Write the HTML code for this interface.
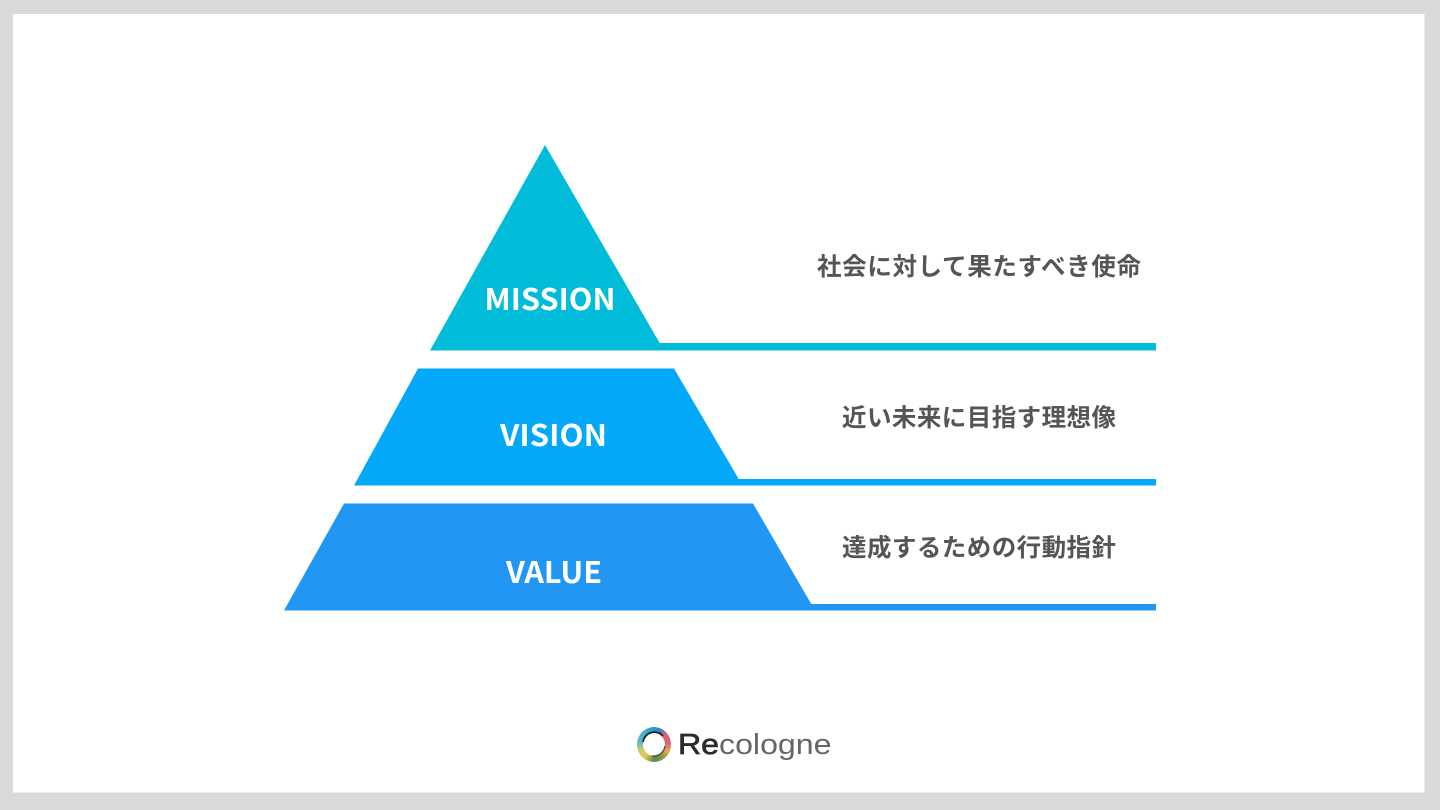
<!DOCTYPE html>
<html lang="ja">
<head>
<meta charset="utf-8">
<title>Mission Vision Value</title>
<style>
html,body{margin:0;padding:0;width:1440px;height:810px;overflow:hidden;background:#d9d9d9}
body{position:relative}
svg{display:block;position:absolute;left:0;top:0}
.en{font-family:"Noto Sans CJK JP","Liberation Sans",sans-serif;font-weight:700;fill:#fff;font-size:30px}
.jp{font-family:"Liberation Sans","Noto Sans CJK JP",sans-serif;font-weight:700;fill:#555;font-size:24.5px}
.logo{font-family:"Liberation Sans",sans-serif;font-size:28.5px}
#ring{position:absolute;left:637px;top:727px;width:34px;height:35px;border-radius:50%;
background:conic-gradient(#2f8fd0 0deg,#3f7fc0 25deg,#d9657f 50deg,#e0607a 85deg,#e8a850 115deg,#7f9a40 150deg,#5a8a50 180deg,#e8c84a 215deg,#d8c860 245deg,#60b8c8 280deg,#35b0d8 330deg,#2f8fd0 360deg)}
#ringin{position:absolute;left:643px;top:733px;width:22px;height:23px;border-radius:50%;background:#fff}
</style>
</head>
<body>
<svg width="1440" height="810" viewBox="0 0 1440 810" xmlns="http://www.w3.org/2000/svg">
<rect x="0" y="0" width="1440" height="810" fill="#d9d9d9"/>
<rect x="13" y="14" width="1411.5" height="778.5" fill="#fff"/>

<polygon points="545,145 664,350.5 430,350.5" fill="#00bcd8"/>
<rect x="655" y="343" width="501" height="7.5" fill="#00bcd8"/>
<polygon points="418,368.5 674,368.5 742.5,485.5 354,485.5" fill="#03a9f8"/>
<rect x="735" y="479" width="421" height="6.5" fill="#03a9f8"/>
<polygon points="344,503.5 753,503.5 815,610.5 284,610.5" fill="#2196f3"/>
<rect x="808" y="604" width="348" height="6.5" fill="#2196f3"/>

<text class="en" x="484.5" y="310" textLength="131" lengthAdjust="spacingAndGlyphs">MISSION</text>
<text class="en" x="500" y="446" textLength="107" lengthAdjust="spacingAndGlyphs">VISION</text>
<text class="en" x="506" y="583" textLength="96" lengthAdjust="spacingAndGlyphs">VALUE</text>

<text class="jp" x="817" y="275" textLength="324">社会に対して果たすべき使命</text>
<text class="jp" x="842" y="426" textLength="274">近い未来に目指す理想像</text>
<text class="jp" x="842" y="556" textLength="274">達成するための行動指針</text>

<text class="logo" x="678" y="754" textLength="153.5" lengthAdjust="spacingAndGlyphs"><tspan fill="#2c2c2c" stroke="#2c2c2c" stroke-width=".7">Re</tspan><tspan fill="#666">cologne</tspan></text>
</svg>
<div id="ring"></div>
<div id="ringin"></div>
<svg width="1440" height="810" viewBox="0 0 1440 810" xmlns="http://www.w3.org/2000/svg">
<path d="M643 742 A11.5 11.5 0 0 1 663 736" fill="none" stroke="#222" stroke-width="1.8"/>
<path d="M665 746 A11.5 11.5 0 0 1 652 756" fill="none" stroke="#555" stroke-width="1.5"/>
</svg>
</body>
</html>
